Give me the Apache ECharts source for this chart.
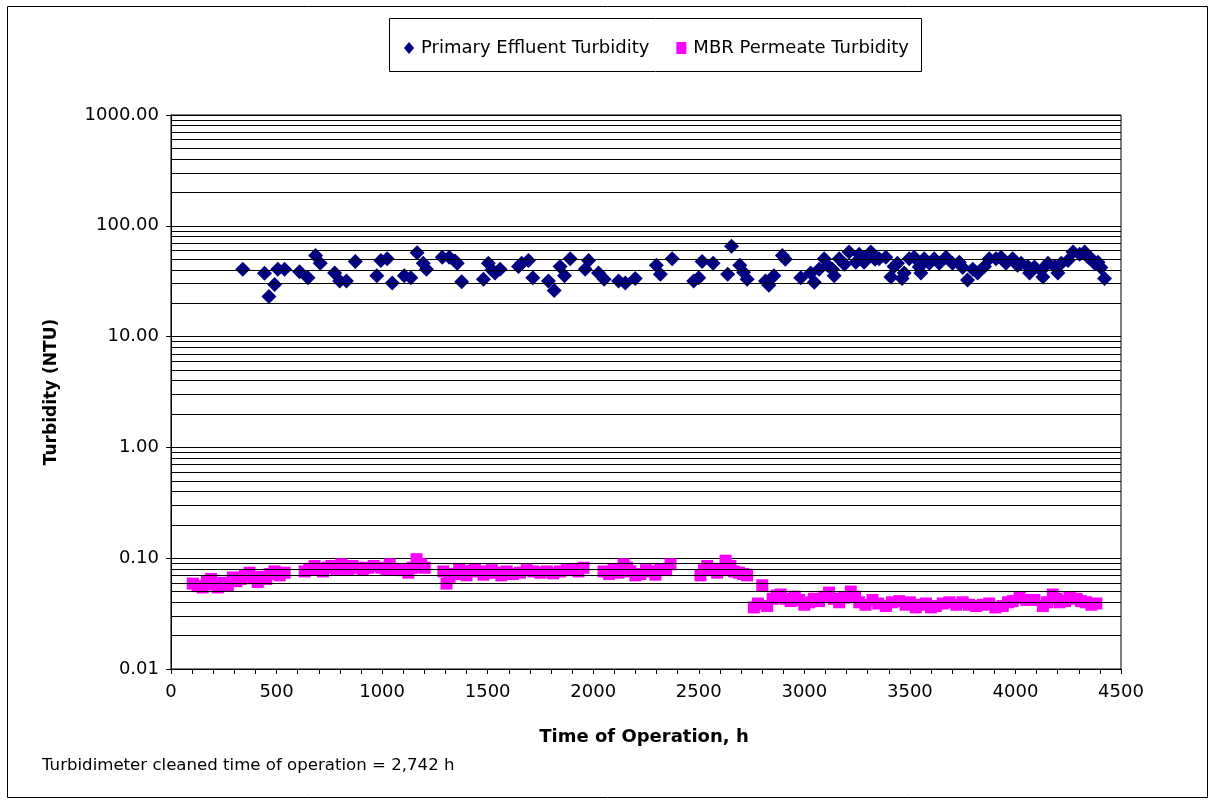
<!DOCTYPE html>
<html>
<head>
<meta charset="utf-8">
<title>Turbidity vs Time of Operation</title>
<script src="https://cdn.jsdelivr.net/npm/echarts@6/dist/echarts.min.js"></script>
<style>
  html, body { margin: 0; padding: 0; background: #fff; }
  #chart { width: 1215px; height: 805px; }
</style>
</head>
<body>
<div id="chart"></div>
<script>
// Primary effluent turbidity: time of operation (h) and reading (NTU)
const peHours = [340, 443, 464, 491, 506, 538, 609, 649, 685, 707, 775, 799, 831, 873, 975, 994, 1024, 1048,
  1105, 1136, 1166, 1195, 1210, 1285, 1318, 1345, 1356, 1377, 1480, 1503, 1520, 1535, 1559, 1646, 1661, 1693,
  1714, 1788, 1815, 1843, 1864, 1891, 1962, 1978, 2025, 2052, 2120, 2152, 2199, 2299, 2318, 2374, 2476, 2500,
  2516, 2568, 2637, 2655, 2694, 2712, 2729, 2816, 2832, 2856, 2896, 2910, 2983, 3030,
  3047, 3070, 3094, 3110, 3133, 3141, 3165, 3190, 3212, 3244, 3260, 3283, 3300, 3315, 3335, 3354, 3386, 3410,
  3425, 3441, 3463, 3473, 3497, 3520, 3544, 3552, 3568, 3592, 3615, 3639, 3671, 3702, 3734, 3750, 3773, 3798,
  3821, 3853, 3876, 3908, 3932, 3955, 3987, 4010, 4027, 4059, 4067, 4090, 4122, 4130, 4154, 4186, 4201, 4217,
  4249, 4273, 4304, 4328, 4345, 4359, 4375, 4391, 4405, 4422];
const peNTU = [40.5, 37.3, 23, 29.5, 40.5, 40.5, 38.5, 34, 54, 46, 37.5, 31.8, 31.8, 47.5, 35.5, 48.5, 50.5, 30.5,
  35.5, 34, 57, 46, 40.5, 52, 52, 48, 46, 31.2, 33, 46, 40, 37.5, 40.5, 43, 46, 48.5,
  34, 31.8, 26, 43, 35.5, 50.5, 40.5, 48.5, 37.5, 33, 31.8, 30.5, 33.5, 44, 36.5, 50.5, 31.8, 34,
  47.5, 46, 36.5, 65.5, 44, 38, 33, 31.8, 29, 35.5, 54, 50, 34, 37.5,
  31, 40.5, 50.5, 44, 40.5, 35.5, 50.5, 45, 58, 47, 55.5, 47, 52, 58, 50, 50.5, 52, 34.5,
  43, 46, 33.5, 37.5, 50.5, 52, 42.5, 37.5, 50.5, 46, 50.5, 46, 52, 46, 47, 42, 32.5, 40.5,
  37.5, 43, 50.5, 50.5, 52, 46, 50.5, 44, 46, 43, 37.5, 42.5, 39.5, 34.5, 46, 43, 37.5, 46,
  48.5, 58, 55.5, 58, 52, 50.5, 46, 47, 42, 33.5];

// MBR permeate turbidity: time of operation (h) and reading (NTU)
const mbrHours = [103, 125, 150, 170, 190, 205, 222, 245, 269, 293, 310, 332, 350, 372, 390, 411, 430, 451, 470,
  490, 515, 538, 633, 655, 680, 700, 720, 740, 760, 785, 807, 839, 860, 886, 910, 934, 960, 997, 1020, 1036,
  1060, 1090, 1124, 1145, 1163, 1185, 1202, 1290, 1305, 1320, 1345, 1365, 1385, 1400, 1416, 1440, 1464, 1480,
  1495, 1520, 1543, 1565, 1590, 1620, 1653, 1685, 1717, 1750, 1780, 1810, 1843, 1875, 1907, 1930, 1954, 2049,
  2075, 2097, 2120, 2144, 2160, 2176, 2200, 2223, 2250, 2271, 2295, 2318, 2345, 2366, 2508, 2525, 2540, 2565,
  2587, 2610, 2627, 2650, 2666, 2690, 2710, 2729, 2761, 2780, 2801, 2824, 2850, 2870, 2888, 2910, 2935, 2955,
  2975, 3000, 3022, 3045, 3070, 3095, 3117, 3140, 3165, 3190, 3220, 3240, 3260, 3290, 3323, 3350, 3386, 3415,
  3449, 3480, 3500, 3528, 3550, 3576, 3600, 3623, 3655, 3687, 3720, 3750, 3780, 3813, 3845, 3876, 3905, 3940,
  3965, 3987, 4020, 4051, 4090, 4130, 4150, 4177, 4195, 4209, 4235, 4256, 4290, 4310, 4335, 4360, 4383];
const mbrNTU = [0.059, 0.056, 0.0545, 0.062, 0.065, 0.058, 0.0545, 0.06, 0.057, 0.067, 0.062, 0.065, 0.07, 0.074,
  0.066, 0.061, 0.068, 0.065, 0.072, 0.076, 0.07, 0.074, 0.076, 0.08, 0.085, 0.079, 0.076, 0.082, 0.085, 0.08,
  0.088, 0.08, 0.085, 0.082, 0.079, 0.082, 0.085, 0.082, 0.079, 0.088, 0.08, 0.078, 0.074, 0.082, 0.098, 0.088,
  0.082, 0.076, 0.059, 0.068, 0.072, 0.08, 0.076, 0.07, 0.076, 0.08, 0.076, 0.071, 0.074, 0.078, 0.074, 0.07,
  0.076, 0.072, 0.074, 0.078, 0.076, 0.074, 0.076, 0.073, 0.076, 0.078, 0.08, 0.076, 0.082, 0.076, 0.072, 0.08,
  0.074, 0.088, 0.082, 0.076, 0.07, 0.072, 0.078, 0.076, 0.071, 0.08, 0.078, 0.088, 0.07, 0.078, 0.085, 0.08,
  0.074, 0.08, 0.095, 0.085, 0.076, 0.074, 0.072, 0.07, 0.036, 0.039, 0.057, 0.037, 0.043, 0.046, 0.047, 0.043,
  0.041, 0.045, 0.042, 0.038, 0.04, 0.043, 0.041, 0.045, 0.049, 0.043, 0.04, 0.044, 0.05, 0.045, 0.04, 0.038,
  0.042, 0.039, 0.037, 0.04, 0.041, 0.038, 0.04, 0.036, 0.038, 0.039, 0.036, 0.037, 0.039, 0.04, 0.038, 0.04,
  0.038, 0.037, 0.038, 0.039, 0.036, 0.037, 0.04, 0.041, 0.044, 0.042, 0.042, 0.037, 0.04, 0.047, 0.043, 0.04,
  0.041, 0.044, 0.043, 0.041, 0.04, 0.038, 0.039];

// Axis ranges and labels
const xTicks = { min: 0, max: 4500, step: 500 };
const yDecades = [0.01, 0.1, 1, 10, 100, 1000];
const seriesNames = ['Primary Effluent Turbidity', 'MBR Permeate Turbidity'];
const xTitle = 'Time of Operation, h';
const yTitle = 'Turbidity (NTU)';
const footnote = 'Turbidimeter cleaned time of operation = 2,742 h';

const FONT = 'DejaVu Sans';
const pair = (xs, ys) => xs.map((x, i) => [x, ys[i]]);

// Intermediate log gridlines (2..9 within each decade)
const minorGrid = [];
yDecades.slice(0, -1).forEach(d => {
  for (let m = 2; m <= 9; m++) minorGrid.push({ yAxis: +(m * d).toPrecision(3) });
});

const chart = echarts.init(document.getElementById('chart'), null, { renderer: 'canvas' });

const GRID = { left: 171, top: 115, width: 950, height: 554 };

chart.setOption({
  animation: false,
  backgroundColor: '#fff',
  textStyle: { fontFamily: FONT },
  grid: Object.assign({ show: true, borderColor: '#000', borderWidth: 1, backgroundColor: 'transparent' }, GRID),
  legend: {
    left: 399,
    top: 34,
    itemGap: 27,
    itemWidth: 10,
    itemHeight: 12,
    textStyle: { fontFamily: FONT, fontSize: 18, color: '#000', padding: [0, 0, 0, 2] },
    data: [
      { name: seriesNames[0], icon: 'diamond' },
      { name: seriesNames[1], icon: 'rect' }
    ]
  },
  xAxis: {
    type: 'value',
    min: xTicks.min,
    max: xTicks.max,
    interval: xTicks.step,
    axisLine: { show: true, lineStyle: { color: '#000', width: 1 } },
    axisTick: { show: true, inside: false, length: 5, lineStyle: { color: '#000' } },
    minorTick: { show: true, splitNumber: 5, length: 5, lineStyle: { color: '#000' } },
    splitLine: { show: false },
    axisLabel: { fontFamily: FONT, fontSize: 18, color: '#000', margin: 14, formatter: v => String(v) }
  },
  yAxis: {
    type: 'log',
    logBase: 10,
    min: yDecades[0],
    max: yDecades[yDecades.length - 1],
    axisLine: { show: true, lineStyle: { color: '#000', width: 1 } },
    axisTick: { show: true, inside: false, length: 5, lineStyle: { color: '#000' } },
    splitLine: { show: true, lineStyle: { color: '#000', width: 1 } },
    axisLabel: {
      fontFamily: FONT, fontSize: 18, color: '#000', margin: 12,
      formatter: v => Number(v).toFixed(2)
    }
  },
  series: [
    {
      name: 'grid-minor',
      type: 'scatter',
      data: [],
      silent: true,
      z: 1,
      markLine: {
        silent: true,
        symbol: ['none', 'none'],
        label: { show: false },
        animation: false,
        lineStyle: { color: '#000', width: 1, type: 'solid' },
        emphasis: { disabled: true },
        data: minorGrid
      }
    },
    {
      name: seriesNames[0],
      type: 'scatter',
      symbol: 'diamond',
      symbolSize: 15,
      z: 3,
      itemStyle: { color: '#000080', opacity: 1 },
      data: pair(peHours, peNTU)
    },
    {
      name: seriesNames[1],
      type: 'scatter',
      symbol: 'rect',
      symbolSize: 12,
      z: 3,
      itemStyle: { color: '#FF00FF', opacity: 1 },
      data: pair(mbrHours, mbrNTU)
    }
  ],
  graphic: [
    {
      type: 'rect',
      shape: { x: 7.5, y: 6.5, width: 1200, height: 791 },
      style: { fill: 'none', stroke: '#000', lineWidth: 1 },
      silent: true, z: 0
    },
    {
      type: 'rect',
      shape: { x: 389.5, y: 18.5, width: 532, height: 53 },
      style: { fill: 'none', stroke: '#000', lineWidth: 1 },
      silent: true, z: 0
    },
    {
      type: 'text',
      x: 644, y: 737,
      style: { text: xTitle, font: 'bold 18px "DejaVu Sans"', fill: '#000', align: 'center', verticalAlign: 'middle' },
      silent: true
    },
    {
      type: 'text',
      x: 52, y: 392,
      rotation: Math.PI / 2,
      style: { text: yTitle, font: 'bold 17px "DejaVu Sans"', fill: '#000', align: 'center', verticalAlign: 'middle' },
      silent: true
    },
    {
      type: 'text',
      x: 42, y: 766,
      style: { text: footnote, font: '16.6px "DejaVu Sans"', fill: '#000', align: 'left', verticalAlign: 'middle' },
      silent: true
    }
  ]
});
</script>
</body>
</html>
